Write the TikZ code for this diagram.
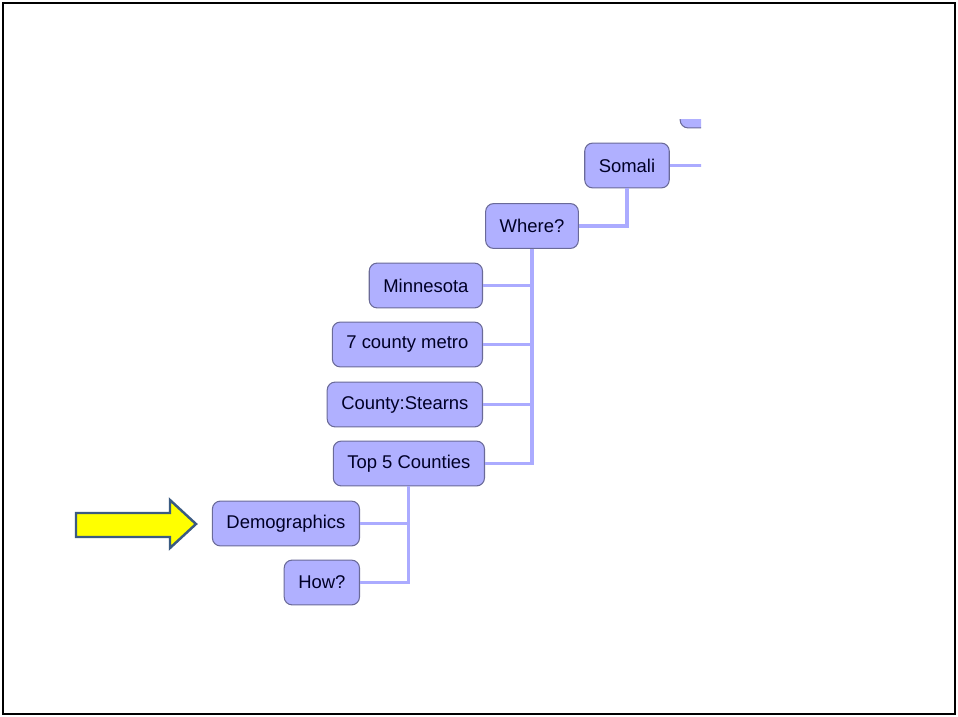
\documentclass[tikz,border=0pt]{standalone}
\usepackage{fontspec}
\setmainfont{Liberation Sans}
\usetikzlibrary{positioning}
\definecolor{nodefill}{HTML}{B0B0FF}
\definecolor{nodeedge}{HTML}{6A6A98}
\definecolor{link}{HTML}{ABABFF}
\definecolor{arrowfill}{HTML}{FFFF00}
\definecolor{arrowedge}{HTML}{3B5B82}

\begin{document}
\begin{tikzpicture}[x=0.02cm, y=-0.02cm, every node/.style={font=\fontsize{10.5}{12}\selectfont}]
  \tikzset{topic/.style={draw=nodeedge, fill=nodefill, line width=0.6pt, rounded corners=4.5pt,
                         minimum height=25.5pt, inner xsep=8pt, text=black!85!blue},
           wire/.style={draw=link, line width=1.8pt}}
  \useasboundingbox (0,0) rectangle (958,717);
  \draw[line width=1.7pt] (3,3) rectangle (955,714);
  % nodes of the map
  \node[topic] (somali) at (627,165.5) {Somali};
  \node[topic] (where) at (532,226) {Where?};
  \node[topic, anchor=east] (mn) at (483,285.5) {Minnesota};
  \node[topic, anchor=east] (metro) at (483,344.5) {7 county metro};
  \node[topic, anchor=east] (stearns) at (483,404.5) {County:Stearns};
  \node[topic, anchor=east] (top5) at (485,463.5) {Top 5 Counties};
  \node[topic, anchor=east] (demo) at (360,523.5) {Demographics};
  \node[topic, anchor=east] (how) at (360,582.5) {How?};
  % cut off at the edge of the view
  \begin{scope}
    \clip (0,119) rectangle (701,717);
    \node[topic, minimum width=80*0.567pt] (parent) at (720,105.5) {};
    \coordinate (somaliout) at (720,165.5);
    \draw[wire] (somali.east) -- (somaliout);
  \end{scope}
  % links
  \draw[wire] (somali.south) |- (where.east);
  \foreach \kid in {mn,metro,stearns,top5}
    \draw[wire] (where.south) |- (\kid.east);
  \foreach \kid in {demo,how}
    \draw[wire] (top5.south) |- (\kid.east);
  % pointer
  \draw[draw=arrowedge, fill=arrowfill, line width=1.4pt, line join=miter]
    (76,513) -- (170,513) -- (170,500) -- (196,524) -- (170,548) -- (170,537) -- (76,537) -- cycle;
\end{tikzpicture}
\end{document}
